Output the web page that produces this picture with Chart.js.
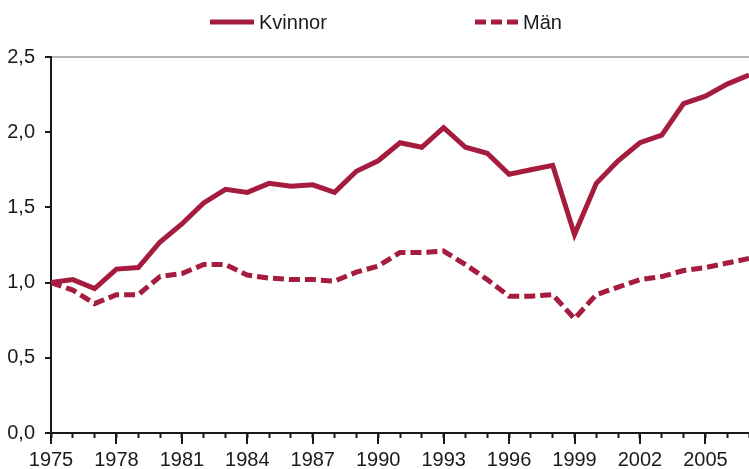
<!DOCTYPE html>
<html>
<head>
<meta charset="utf-8">
<script src="https://cdn.jsdelivr.net/npm/chart.js@4/dist/chart.umd.min.js"></script>
<style>
  html, body { margin: 0; padding: 0; background: #fff; }
  #wrap { width: 749px; height: 469px; position: relative; }
</style>
</head>
<body>
<div id="wrap"><canvas id="c" width="749" height="469"></canvas></div>
<script>
const years = [1975,1976,1977,1978,1979,1980,1981,1982,1983,1984,1985,1986,1987,1988,1989,1990,
               1991,1992,1993,1994,1995,1996,1997,1998,1999,2000,2001,2002,2003,2004,2005,2006,2007];
const kvinnor = [1.00,1.02,0.96,1.09,1.10,1.27,1.39,1.53,1.62,1.60,1.66,1.64,1.65,1.60,1.74,1.81,
                 1.93,1.90,2.03,1.90,1.86,1.72,1.75,1.78,1.32,1.66,1.81,1.93,1.98,2.19,2.24,2.32,2.38];
const man = [1.00,0.95,0.86,0.92,0.92,1.04,1.06,1.12,1.12,1.05,1.03,1.02,1.02,1.01,1.07,1.11,
             1.20,1.20,1.21,1.12,1.02,0.91,0.91,0.92,0.76,0.92,0.97,1.02,1.04,1.08,1.10,1.13,1.16];
const xTickLabels = ['1975','1978','1981','1984','1987','1990','1993','1996','1999','2002','2005'];
const yTickLabels = ['0,0','0,5','1,0','1,5','2,0','2,5'];
const seriesNames = ['Kvinnor','Män'];

const RED = '#A51C3E';
const INK = '#1a1a1a';
const FONT = "'Liberation Sans', Arial, Helvetica, sans-serif";

const majorTicks = {
  id: 'majorTicks',
  afterDraw(chart) {
    const x = chart.scales.x, ctx = chart.ctx;
    ctx.save();
    ctx.strokeStyle = INK;
    ctx.lineWidth = 2;
    xTickLabels.forEach(l => {
      const px = Math.round(x.getPixelForValue(Number(l)));
      ctx.beginPath();
      ctx.moveTo(px, x.top);
      ctx.lineTo(px, x.top + 11);
      ctx.stroke();
    });
    ctx.restore();
  }
};

const customLegend = {
  id: 'customLegend',
  afterDraw(chart) {
    const ctx = chart.ctx;
    const items = [
      {x0: 210, x1: 254, tx: 259},
      {x0: 475, x1: 518, tx: 523}
    ];
    const y = 22;
    ctx.save();
    chart.data.datasets.forEach((ds, i) => {
      const it = items[i];
      ctx.strokeStyle = ds.borderColor;
      ctx.lineWidth = 5;
      ctx.lineCap = 'butt';
      ctx.setLineDash(ds.borderDash || []);
      ctx.beginPath();
      ctx.moveTo(it.x0, y);
      ctx.lineTo(it.x1, y);
      ctx.stroke();
      ctx.setLineDash([]);
      ctx.fillStyle = INK;
      ctx.font = '20px ' + FONT;
      ctx.textAlign = 'left';
      ctx.textBaseline = 'middle';
      ctx.fillText(ds.label, it.tx, y + 1);
    });
    ctx.restore();
  }
};

new Chart(document.getElementById('c'), {
  type: 'line',
  data: {
    datasets: [
      {
        label: seriesNames[0],
        data: years.map((y, i) => ({x: y, y: kvinnor[i]})),
        borderColor: RED,
        borderWidth: 5,
        pointRadius: 0,
        tension: 0,
        fill: false
      },
      {
        label: seriesNames[1],
        data: years.map((y, i) => ({x: y, y: man[i]})),
        borderColor: RED,
        borderWidth: 5,
        borderDash: [11, 5],
        borderCapStyle: 'butt',
        pointRadius: 0,
        tension: 0,
        fill: false
      }
    ]
  },
  options: {
    responsive: false,
    animation: false,
    devicePixelRatio: 1,
    layout: { padding: { top: 57, right: 0, left: 0, bottom: 0 } },
    plugins: { legend: { display: false }, tooltip: { enabled: false } },
    scales: {
      x: {
        type: 'linear',
        min: 1975,
        max: 2007,
        afterFit: s => { s.height = 36; },
        border: { display: true, color: INK, width: 2 },
        grid: { drawOnChartArea: false, drawTicks: true, tickLength: 5, tickColor: INK, tickWidth: 2 },
        ticks: {
          stepSize: 1,
          autoSkip: false,
          maxRotation: 0,
          padding: 0,
          color: INK,
          font: { family: FONT, size: 20, lineHeight: 2.2 },
          callback: v => xTickLabels.includes(String(v)) ? String(v) : ''
        }
      },
      y: {
        min: 0,
        max: 2.5,
        afterFit: s => { s.width = 51; },
        border: { display: true, color: INK, width: 2 },
        grid: {
          drawTicks: true,
          tickLength: 6,
          tickColor: INK,
          tickWidth: 2,
          lineWidth: 2,
          color: c => (c.tick && c.tick.value === 2.5) ? '#b5b5b5' : 'rgba(0,0,0,0)'
        },
        ticks: {
          stepSize: 0.5,
          padding: 10,
          color: INK,
          font: { family: FONT, size: 20 },
          callback: (v, i) => yTickLabels[Math.round(v * 2)]
        }
      }
    }
  },
  plugins: [majorTicks, customLegend]
});
</script>
</body>
</html>
